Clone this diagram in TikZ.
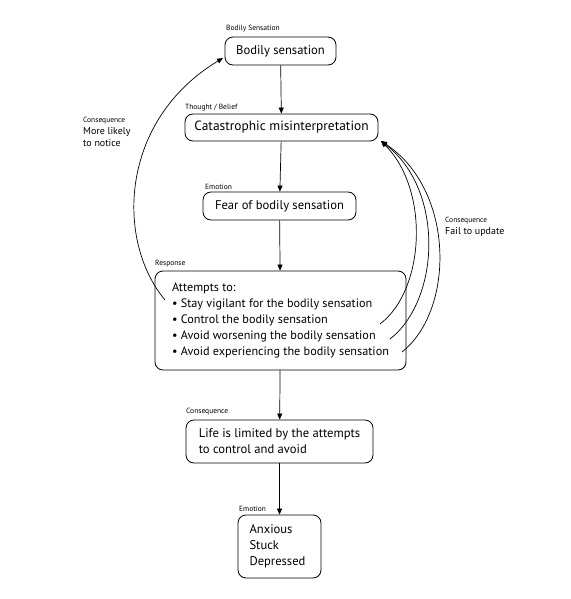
\documentclass[tikz,border=0pt]{standalone}
\usepackage{fontspec}
\setmainfont{PT Sans}
\usetikzlibrary{arrows.meta}
\begin{document}
\begin{tikzpicture}[x=1pt,y=-1pt,
 box/.style={draw, rounded corners=8pt, line width=0.8pt, font=\fontsize{12.6}{16}\selectfont, inner sep=0pt},
 lbl/.style={font=\fontsize{7.5}{9}\selectfont, anchor=west, inner sep=0pt},
 side/.style={font=\fontsize{10}{13}\selectfont, align=left, anchor=north west, inner sep=0pt},
 arr/.style={-{Triangle[length=6pt,width=5pt]}, line width=0.7pt},
 curve/.style={-{Triangle[length=6pt,width=5pt]}, line width=0.7pt}]
\useasboundingbox (0,0) rectangle (570,599);
% boxes
\node[box, minimum width=111pt, minimum height=28pt] (bs) at (280.5,51) {Bodily sensation};
\node[box, minimum width=193pt, minimum height=27pt, font=\fontsize{13.4}{16}\selectfont] (cm) at (281.5,127.5) {Catastrophic misinterpretation};
\node[box, minimum width=153pt, minimum height=28pt] (fe) at (279.5,206) {Fear of bodily sensation};
\node[box, minimum width=251pt, minimum height=99pt, align=left, font=\fontsize{12.2}{16.2}\selectfont] (re) at (280.5,320.5) {Attempts to:\\
• Stay vigilant for the bodily sensation\\
• Control the bodily sensation\\
• Avoid worsening the bodily sensation\\
• Avoid experiencing the bodily sensation};
\node[box, minimum width=187pt, minimum height=43pt, align=left] (li) at (279.5,441.5) {Life is limited by the attempts\\to control and avoid};
\node[box, minimum width=83pt, minimum height=63pt, align=left] (an) at (279.5,546.5) {Anxious\\Stuck\\Depressed\hspace*{4pt}};
% small labels
\node[lbl] (l1) at (226,29) {Bodily Sensation};
\node[lbl] (l2) at (185,108) {Thought / Belief};
\node[lbl] (l3) at (205,187) {Emotion};
\node[lbl] (l4) at (155,264) {Response};
\node[lbl] (l5) at (186,412) {Consequence};
\node[lbl] (l6) at (239,509) {Emotion};
% side labels
\node[side] (s1) at (83,117) {{\fontsize{7.5}{9}\selectfont Consequence}\\[-1pt]More likely\\[-1pt]to notice};
\node[side] (s2) at (445,217) {{\fontsize{7.5}{9}\selectfont Consequence}\\[-1pt]Fail to update};
% vertical arrows
\draw[arr] (bs) -- (cm);
\draw[arr] (cm) -- (fe);
\draw[arr] (fe) -- (re);
\draw[arr] (re) -- (li);
\draw[arr] (li) -- (an);
% curve coordinates
\coordinate (c0) at (165,300);
\coordinate (c1) at (380,324);
\coordinate (c2) at (390,339);
\coordinate (c3) at (402,352);
\coordinate (ct) at (381,141);
\coordinate (bt) at (223,58);
\draw[curve] (c0) .. controls (115,240) and (120,120) .. (bt);
\draw[curve] (c1) .. controls (425,290) and (430,190) .. (ct);
\draw[curve] (c2) .. controls (440,300) and (445,190) .. (ct);
\draw[curve] (c3) .. controls (455,310) and (455,190) .. (ct);
\end{tikzpicture}
\end{document}
